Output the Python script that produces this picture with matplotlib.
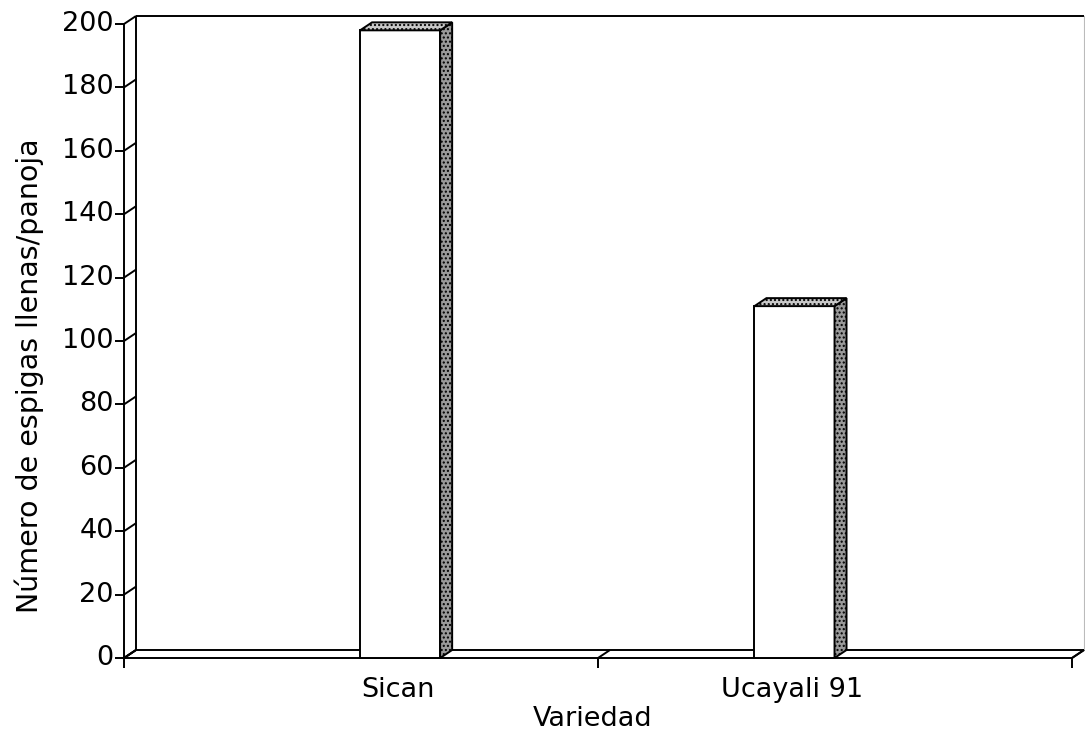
import numpy as np
import matplotlib
matplotlib.use('Agg')
import matplotlib.pyplot as plt
from matplotlib.patches import Polygon

plt.rcParams['font.family'] = ['DejaVu Sans']

variedades = ['Sican', 'Ucayali 91']
espigas = [198, 111]
yticks = np.arange(0, 201, 20)

# layout (axis units)
bar_left = [0.498, 1.33]
bar_w = 0.169
dx = 12 / 474.0      # depth offset, x
dy = 8 / 3.17        # depth offset, y
fs = 19.5

fig = plt.figure(figsize=(10.85, 7.39), dpi=100)
ax = fig.add_axes([124/1085, 81/739, 948/1085, 634/739])
ax.set_xlim(0, 2)
ax.set_ylim(0, 200)
ax.axis('off')

k = dict(color='black', lw=1.4, clip_on=False, solid_capstyle='butt')
# walls / floor
ax.plot([0, 0], [0, 200], **k)
ax.plot([dx, dx], [dy, 200 + dy], **k)
ax.plot([dx, 2 + dx], [200 + dy, 200 + dy], **k)
ax.plot([2 + dx, 2 + dx], [dy, 200 + dy], color='#bbbbbb', lw=0.8, clip_on=False)
ax.plot([0, 2], [0, 0], **k)
ax.plot([dx, 2 + dx], [dy, dy], **k)
ax.plot([0, dx], [0, dy], **k)
ax.plot([2, 2 + dx], [0, dy], **k)

# y ticks
for t in yticks:
    ax.plot([-0.02, 0], [t, t], **k)
    ax.plot([0, dx], [t, t + dy], **k)
    ax.text(-0.022, t, str(t), ha='right', va='center', fontsize=fs)

# x ticks (category boundaries)
for i in range(len(variedades) + 1):
    ax.plot([i, i], [0, -3.2], **k)
    ax.plot([i, i + dx], [0, dy], **k)

# bars
for i, v in enumerate(espigas):
    L = bar_left[i]
    R = L + bar_w
    front = Polygon([(L, 0), (R, 0), (R, v), (L, v)], closed=True,
                    facecolor='white', edgecolor='black', lw=1.4, clip_on=False, zorder=3)
    side = Polygon([(R, 0), (R + dx, dy), (R + dx, v + dy), (R, v)], closed=True,
                   facecolor='#9a9a9a', edgecolor='black', lw=1.4, hatch='....',
                   clip_on=False, zorder=3)
    top = Polygon([(L, v), (L + dx, v + dy), (R + dx, v + dy), (R, v)], closed=True,
                  facecolor='#c8c8c8', edgecolor='black', lw=1.4, hatch='....',
                  clip_on=False, zorder=3)
    for p in (front, side, top):
        ax.add_patch(p)
    ax.text((L + R) / 2 - 0.005, -6.0, variedades[i], ha='center', va='top', fontsize=fs)

ax.text(0.989, -15.0, 'Variedad', ha='center', va='top', fontsize=fs)
ax.text(-0.2, 89, 'Número de espigas llenas/panoja', rotation=90,
        ha='center', va='center', fontsize=20.5)

fig.savefig('out.png', dpi=100)
